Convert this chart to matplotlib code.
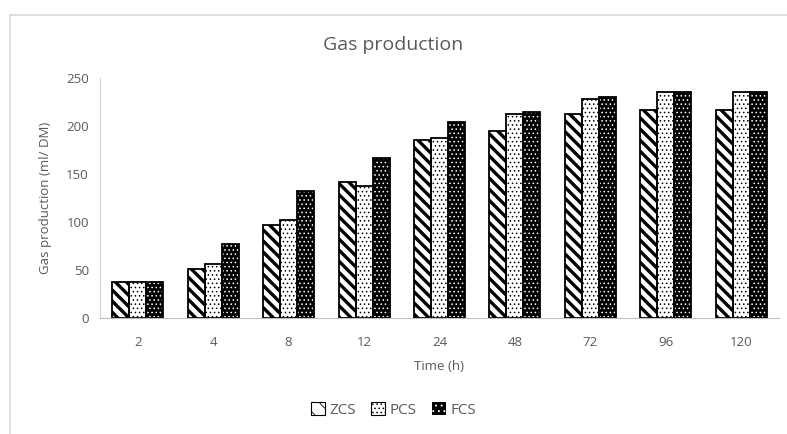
import matplotlib
matplotlib.use("Agg")
import matplotlib.pyplot as plt
import numpy as np
from matplotlib.patches import Patch
from matplotlib.lines import Line2D

plt.rcParams['font.family'] = ['Open Sans', 'DejaVu Sans']

# data
horas = ["2", "4", "8", "12", "24", "48", "72", "96", "120"]
zcs = [37, 51, 97, 142, 185, 195, 212, 217, 217]
pcs = [37, 56, 102, 137, 188, 212, 228, 235, 235]
fcs = [37, 77, 132, 167, 204, 215, 230, 235, 235]
series_names = ["ZCS", "PCS", "FCS"]

cinza = "#595959"
x = np.arange(len(horas))
w = 0.225

fig = plt.figure(figsize=(7.87, 4.34), dpi=100)
ax = fig.add_axes([100/787, 116/434, 679/787, 240/434])

# ZCS: white with wide black diagonal stripes
plt.rcParams['hatch.linewidth'] = 2.4
ax.bar(x - w, zcs, w, facecolor="white", edgecolor="black", hatch="\\\\\\", linewidth=0)
# PCS: white with small black dots
plt.rcParams['hatch.linewidth'] = 0.6
ax.bar(x, pcs, w, facecolor="white", edgecolor="black", hatch="....", linewidth=0)
# FCS: black with small white dots
ax.bar(x + w, fcs, w, facecolor="black", edgecolor="white", hatch="....", linewidth=0)

# outlines
for off, vals in zip([-w, 0, w], [zcs, pcs, fcs]):
    ax.bar(x + off, vals, w, fill=False, edgecolor="black", linewidth=1.3)

ax.set_xlim(-0.5, len(horas) - 0.5)
ax.set_ylim(0, 250)
ax.set_yticks(range(0, 251, 50))
ax.set_xticks(x)
ax.set_xticklabels(horas)
ax.tick_params(axis="both", length=0, labelsize=9.5, colors=cinza)
ax.tick_params(axis="x", pad=13)
ax.tick_params(axis="y", pad=8)
for s in ["top", "right"]:
    ax.spines[s].set_visible(False)
ax.spines["left"].set_color("#d0d0d0")
ax.spines["bottom"].set_color("#bfbfbf")

ax.set_xlabel("Time (h)", fontsize=9.5, color=cinza, labelpad=8)
ax.set_ylabel("Gas production (ml/ DM)", fontsize=9.5, color=cinza, labelpad=10)
fig.text(0.5, 1 - 45/434, "Gas production", ha="center", va="center", fontsize=14, color=cinza)

# legend
plt.rcParams['hatch.linewidth'] = 2.2
h1 = Patch(facecolor="white", edgecolor="black", hatch="\\\\", linewidth=0.8)
plt.rcParams['hatch.linewidth'] = 0.6
h2 = Patch(facecolor="white", edgecolor="black", hatch="....", linewidth=0.8)
h3 = Patch(facecolor="black", edgecolor="white", hatch="...", linewidth=0)
leg = fig.legend([h1, h2, h3], series_names, loc="center", bbox_to_anchor=(0.5, 1 - 410/434),
                 ncol=3, frameon=False, fontsize=11, handlelength=0.9, handleheight=0.9,
                 handletextpad=0.3, columnspacing=1.0)
for t in leg.get_texts():
    t.set_color(cinza)

# chart border (top and left only are visible)
fig.add_artist(Line2D([10/787, 1], [1 - 15/434, 1 - 15/434], color="#d9d9d9", linewidth=1.2))
fig.add_artist(Line2D([10/787, 10/787], [0, 1 - 15/434], color="#d9d9d9", linewidth=1.2))

fig.savefig("out.png", dpi=100)
